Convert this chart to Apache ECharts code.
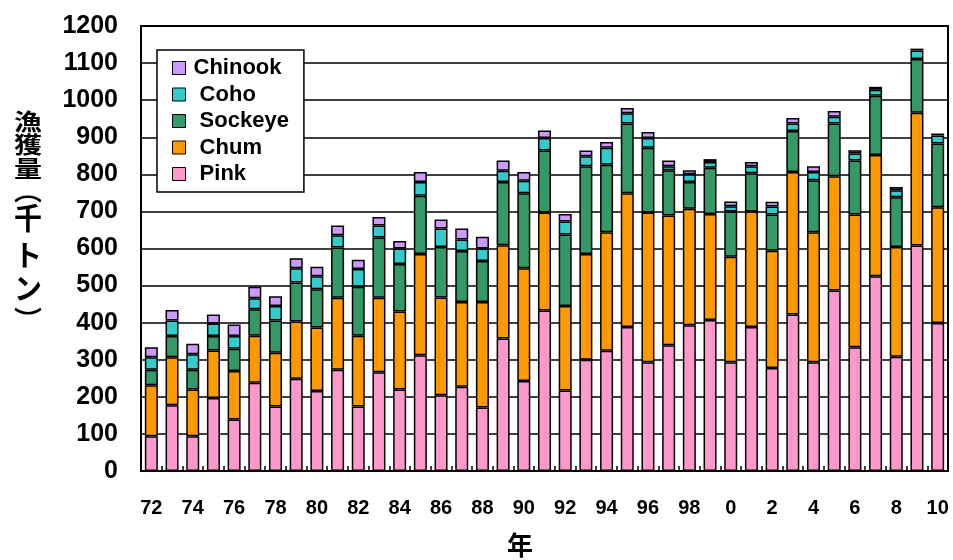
<!DOCTYPE html>
<html>
<head>
<meta charset="utf-8">
<script src="https://cdn.jsdelivr.net/npm/echarts@6/dist/echarts.min.js"></script>
<style>
html,body{margin:0;padding:0;background:#fff;}
#c{width:953px;height:560px;}
</style>
</head>
<body>
<div id="c"></div>
<script>
var years = ['72','73','74','75','76','77','78','79','80','81','82','83','84','85','86','87','88','89','90','91','92','93','94','95','96','97','98','99','0','1','2','3','4','5','6','7','8','9','10'];
var pink    = [94,177,94,197,139,238,174,249,216,273,174,266,220,312,204,227,171,357,243,433,217,300,324,388,293,339,393,407,293,388,278,422,293,487,334,525,308,608,399];
var chum    = [137,130,126,128,131,127,145,154,171,194,191,201,210,273,264,229,285,252,304,264,228,285,320,361,404,350,314,286,285,312,316,384,351,308,358,327,296,358,312];
var sockeye = [42,57,53,39,60,71,87,105,103,136,132,163,128,157,136,137,110,170,202,167,193,237,182,188,175,122,72,125,122,103,98,111,140,142,145,160,134,145,172];
var coho    = [34,42,42,34,34,30,39,39,35,33,48,32,42,37,50,31,34,31,34,34,35,27,46,28,26,11,21,15,14,19,21,20,22,18,19,16,19,23,22];
var chinook = [27,28,28,24,31,31,26,27,26,26,25,23,20,27,24,30,32,27,23,20,20,15,15,14,16,15,11,8,13,11,13,15,16,16,9,8,9,5,5];
var yTicks = {min:0, max:1200, interval:100};
var yName = '漁獲量︵千トン︶';
var xName = '年';

var names = ['Pink','Chum','Sockeye','Coho','Chinook'];
var dataSets = [pink, chum, sockeye, coho, chinook];
var colors = ['#FF99CC','#FF9900','#339966','#33CCCC','#CC99FF'];

var series = names.map(function(n,i){
  return {
    name:n, type:'bar', stack:'total', data:dataSets[i],
    barWidth:13,
    itemStyle:{color:colors[i], borderColor:'#000', borderWidth:1.5},
    emphasis:{disabled:true},
    animation:false
  };
});

// vertical y-axis caption, one glyph per element (layout only)
var nameCenters = [121, 144, 168, 191, 218, 255, 288, 318];
var nameScaleY  = [0.8, 0.8, 0.82, 0.8, 1.05, 1.05, 1.05, 0.8];
var yNameChars = yName.split('');
var nameGraphics = yNameChars.map(function(ch,i){
  return {type:'text', x:28, y:nameCenters[i], scaleY:nameScaleY[i],
    style:{text:ch, font:'bold 28px "Noto Sans CJK JP"', fill:'#000', textAlign:'center', textVerticalAlign:'middle'}};
});

var chart = echarts.init(document.getElementById('c'));
chart.setOption({
  animation:false,
  backgroundColor:'#fff',
  grid:{left:141, right:5, top:26, bottom:89, show:true, borderColor:'#000', borderWidth:2, backgroundColor:'transparent'},
  legend:{
    data:['Chinook','Coho','Sockeye','Chum','Pink'],
    orient:'vertical', left:157, top:50,
    backgroundColor:'#fff',
    borderColor:'#000', borderWidth:1.5,
    padding:[7,15,7,15],
    itemWidth:13, itemHeight:13, itemGap:4.5,
    icon:'rect',
    itemStyle:{borderColor:'#000', borderWidth:1},
    formatter:function(n){ return n==='Chinook' ? n : ' '+n; },
    textStyle:{fontFamily:'Liberation Sans', fontWeight:'bold', fontSize:22, lineHeight:20, color:'#000', padding:[0,0,0,3]}
  },
  xAxis:{
    type:'category', data:years,
    axisLine:{lineStyle:{color:'#000', width:2}},
    axisTick:{show:true, inside:true, length:5, interval:0, lineStyle:{color:'#000', width:1.5}},
    axisLabel:{interval:1, margin:27, fontFamily:'Liberation Sans', fontWeight:'bold', fontSize:20, color:'#000'},
    splitLine:{show:false}
  },
  yAxis:{
    type:'value', min:yTicks.min, max:yTicks.max, interval:yTicks.interval,
    axisLine:{show:true, lineStyle:{color:'#000', width:2}},
    axisTick:{show:false},
    axisLabel:{margin:23, fontFamily:'Liberation Sans', fontWeight:'bold', fontSize:25, color:'#000',
      formatter:function(v){ return String(v); }},
    splitLine:{lineStyle:{color:'#000', width:1.5}}
  },
  graphic:nameGraphics.concat([
    {type:'text', x:520, y:545, style:{text:xName, font:'bold 26px "Noto Sans CJK JP"', fill:'#000', textAlign:'center', textVerticalAlign:'middle'}}
  ]),
  series:series
});
</script>
</body>
</html>
